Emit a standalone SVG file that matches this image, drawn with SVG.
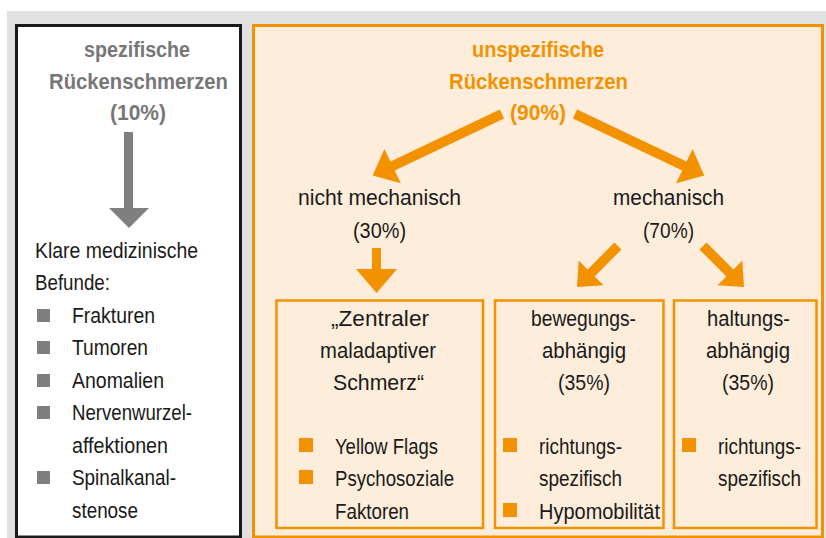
<svg xmlns="http://www.w3.org/2000/svg" width="826" height="538" viewBox="0 0 826 538">
<style>
text{font-family:"Liberation Sans",Arial,sans-serif;font-size:22px;fill:#1a1a1a}
.t{font-weight:bold;text-anchor:middle}
.g{fill:#777777}
.o{fill:#f39200}
.c{text-anchor:middle}
.gb{fill:#7f7f7f}
.ob{fill:#f39200}
.box{fill:none;stroke:#f39200;stroke-width:2.5}
</style>
<rect x="7" y="11" width="819" height="527" fill="#e1e1e1"/>
<g id="spezifisch">
<rect x="16.5" y="25.5" width="224" height="511.5" fill="#ffffff" stroke="#1a1a1a" stroke-width="3"/>
<text class="t g" x="137" y="57" textLength="106" lengthAdjust="spacingAndGlyphs">spezifische</text>
<text class="t g" x="138.5" y="89" textLength="179" lengthAdjust="spacingAndGlyphs">Rückenschmerzen</text>
<text class="t g" x="138" y="120" textLength="56" lengthAdjust="spacingAndGlyphs">(10%)</text>
<text x="35" y="258" textLength="163" lengthAdjust="spacingAndGlyphs">Klare medizinische</text>
<text x="35" y="290" textLength="75" lengthAdjust="spacingAndGlyphs">Befunde:</text>
<rect class="gb" x="37" y="309" width="13" height="13"/><text x="72" y="323" textLength="83" lengthAdjust="spacingAndGlyphs">Frakturen</text>
<rect class="gb" x="37" y="341" width="13" height="13"/><text x="72" y="355" textLength="76" lengthAdjust="spacingAndGlyphs">Tumoren</text>
<rect class="gb" x="37" y="374" width="13" height="13"/><text x="72" y="388" textLength="92" lengthAdjust="spacingAndGlyphs">Anomalien</text>
<rect class="gb" x="37" y="406" width="13" height="13"/><text x="72" y="420" textLength="120" lengthAdjust="spacingAndGlyphs">Nervenwurzel-</text>
<text x="72" y="453" textLength="96" lengthAdjust="spacingAndGlyphs">affektionen</text>
<rect class="gb" x="37" y="471" width="13" height="13"/><text x="72" y="485" textLength="104" lengthAdjust="spacingAndGlyphs">Spinalkanal-</text>
<text x="72" y="518" textLength="66" lengthAdjust="spacingAndGlyphs">stenose</text>
</g>
<g id="unspezifisch">
<rect x="253.5" y="25.5" width="569" height="511.5" fill="#fdedda" stroke="#f39200" stroke-width="3"/>
<text class="t o" x="538" y="57" textLength="132" lengthAdjust="spacingAndGlyphs">unspezifische</text>
<text class="t o" x="538.5" y="89" textLength="179" lengthAdjust="spacingAndGlyphs">Rückenschmerzen</text>
<text class="t o" x="538" y="120" textLength="56" lengthAdjust="spacingAndGlyphs">(90%)</text>
</g>
<g id="nichtmechanisch">
<text class="c" x="379.5" y="205" textLength="163" lengthAdjust="spacingAndGlyphs">nicht mechanisch</text>
<text class="c" x="379.5" y="238" textLength="53" lengthAdjust="spacingAndGlyphs">(30%)</text>
</g>
<g id="mechanisch">
<text class="c" x="668.5" y="205" textLength="111" lengthAdjust="spacingAndGlyphs">mechanisch</text>
<text class="c" x="668.5" y="238" textLength="51" lengthAdjust="spacingAndGlyphs">(70%)</text>
</g>
<g id="zentral">
<rect class="box" x="276.5" y="300.5" width="206.5" height="227.5"/>
<text class="c" x="380" y="326" textLength="98" lengthAdjust="spacingAndGlyphs">„Zentraler</text>
<text class="c" x="378" y="358" textLength="116" lengthAdjust="spacingAndGlyphs">maladaptiver</text>
<text class="c" x="378.5" y="390" textLength="91" lengthAdjust="spacingAndGlyphs">Schmerz“</text>
<rect class="ob" x="299" y="438" width="14" height="14"/><text x="335" y="454" textLength="103" lengthAdjust="spacingAndGlyphs">Yellow Flags</text>
<rect class="ob" x="299" y="470" width="14" height="14"/><text x="335" y="486" textLength="119" lengthAdjust="spacingAndGlyphs">Psychosoziale</text>
<text x="335" y="519" textLength="74" lengthAdjust="spacingAndGlyphs">Faktoren</text>
</g>
<g id="bewegung">
<rect class="box" x="495" y="300.5" width="168.5" height="227.5"/>
<text class="c" x="583.5" y="326" textLength="105" lengthAdjust="spacingAndGlyphs">bewegungs-</text>
<text class="c" x="584" y="358" textLength="84" lengthAdjust="spacingAndGlyphs">abhängig</text>
<text class="c" x="584" y="390" textLength="52" lengthAdjust="spacingAndGlyphs">(35%)</text>
<rect class="ob" x="503" y="438" width="14" height="14"/><text x="539" y="454" textLength="83" lengthAdjust="spacingAndGlyphs">richtungs-</text>
<text x="539" y="486" textLength="83" lengthAdjust="spacingAndGlyphs">spezifisch</text>
<rect class="ob" x="503" y="503" width="14" height="14"/><text x="539" y="519" textLength="121" lengthAdjust="spacingAndGlyphs">Hypomobilität</text>
</g>
<g id="haltung">
<rect class="box" x="674" y="300.5" width="142.5" height="227.5"/>
<text class="c" x="748.5" y="326" textLength="83" lengthAdjust="spacingAndGlyphs">haltungs-</text>
<text class="c" x="748" y="358" textLength="84" lengthAdjust="spacingAndGlyphs">abhängig</text>
<text class="c" x="748" y="390" textLength="52" lengthAdjust="spacingAndGlyphs">(35%)</text>
<rect class="ob" x="682" y="438" width="14" height="14"/><text x="718" y="454" textLength="83" lengthAdjust="spacingAndGlyphs">richtungs-</text>
<text x="718" y="486" textLength="83" lengthAdjust="spacingAndGlyphs">spezifisch</text>
</g>
<g id="connectors">
<polygon fill="#7f7f7f" points="124,132 133,132 133,208 149,208 129,228 109,208 124,208"/>
<polygon class="ob" points="499.9,109.5 390.5,161.5 384.4,148.9 372.7,175.5 400.8,183.2 394.7,170.6 504.1,118.5"/>
<polygon class="ob" points="577.1,109.5 686.5,161.5 692.6,148.9 704.3,175.5 676.2,183.2 682.3,170.6 572.9,118.5"/>
<polygon class="ob" points="372,248 381,248 381,269 397,269 376.5,293 356,269 372,269"/>
<polygon class="ob" points="621.5,249.5 594.6,276.4 603.5,285.3 577,287 578.7,260.5 587.6,269.4 614.5,242.5"/>
<polygon class="ob" points="699.5,249.5 726.4,276.4 717.5,285.3 744,287 742.3,260.5 733.4,269.4 706.5,242.5"/>
</g>
</svg>
